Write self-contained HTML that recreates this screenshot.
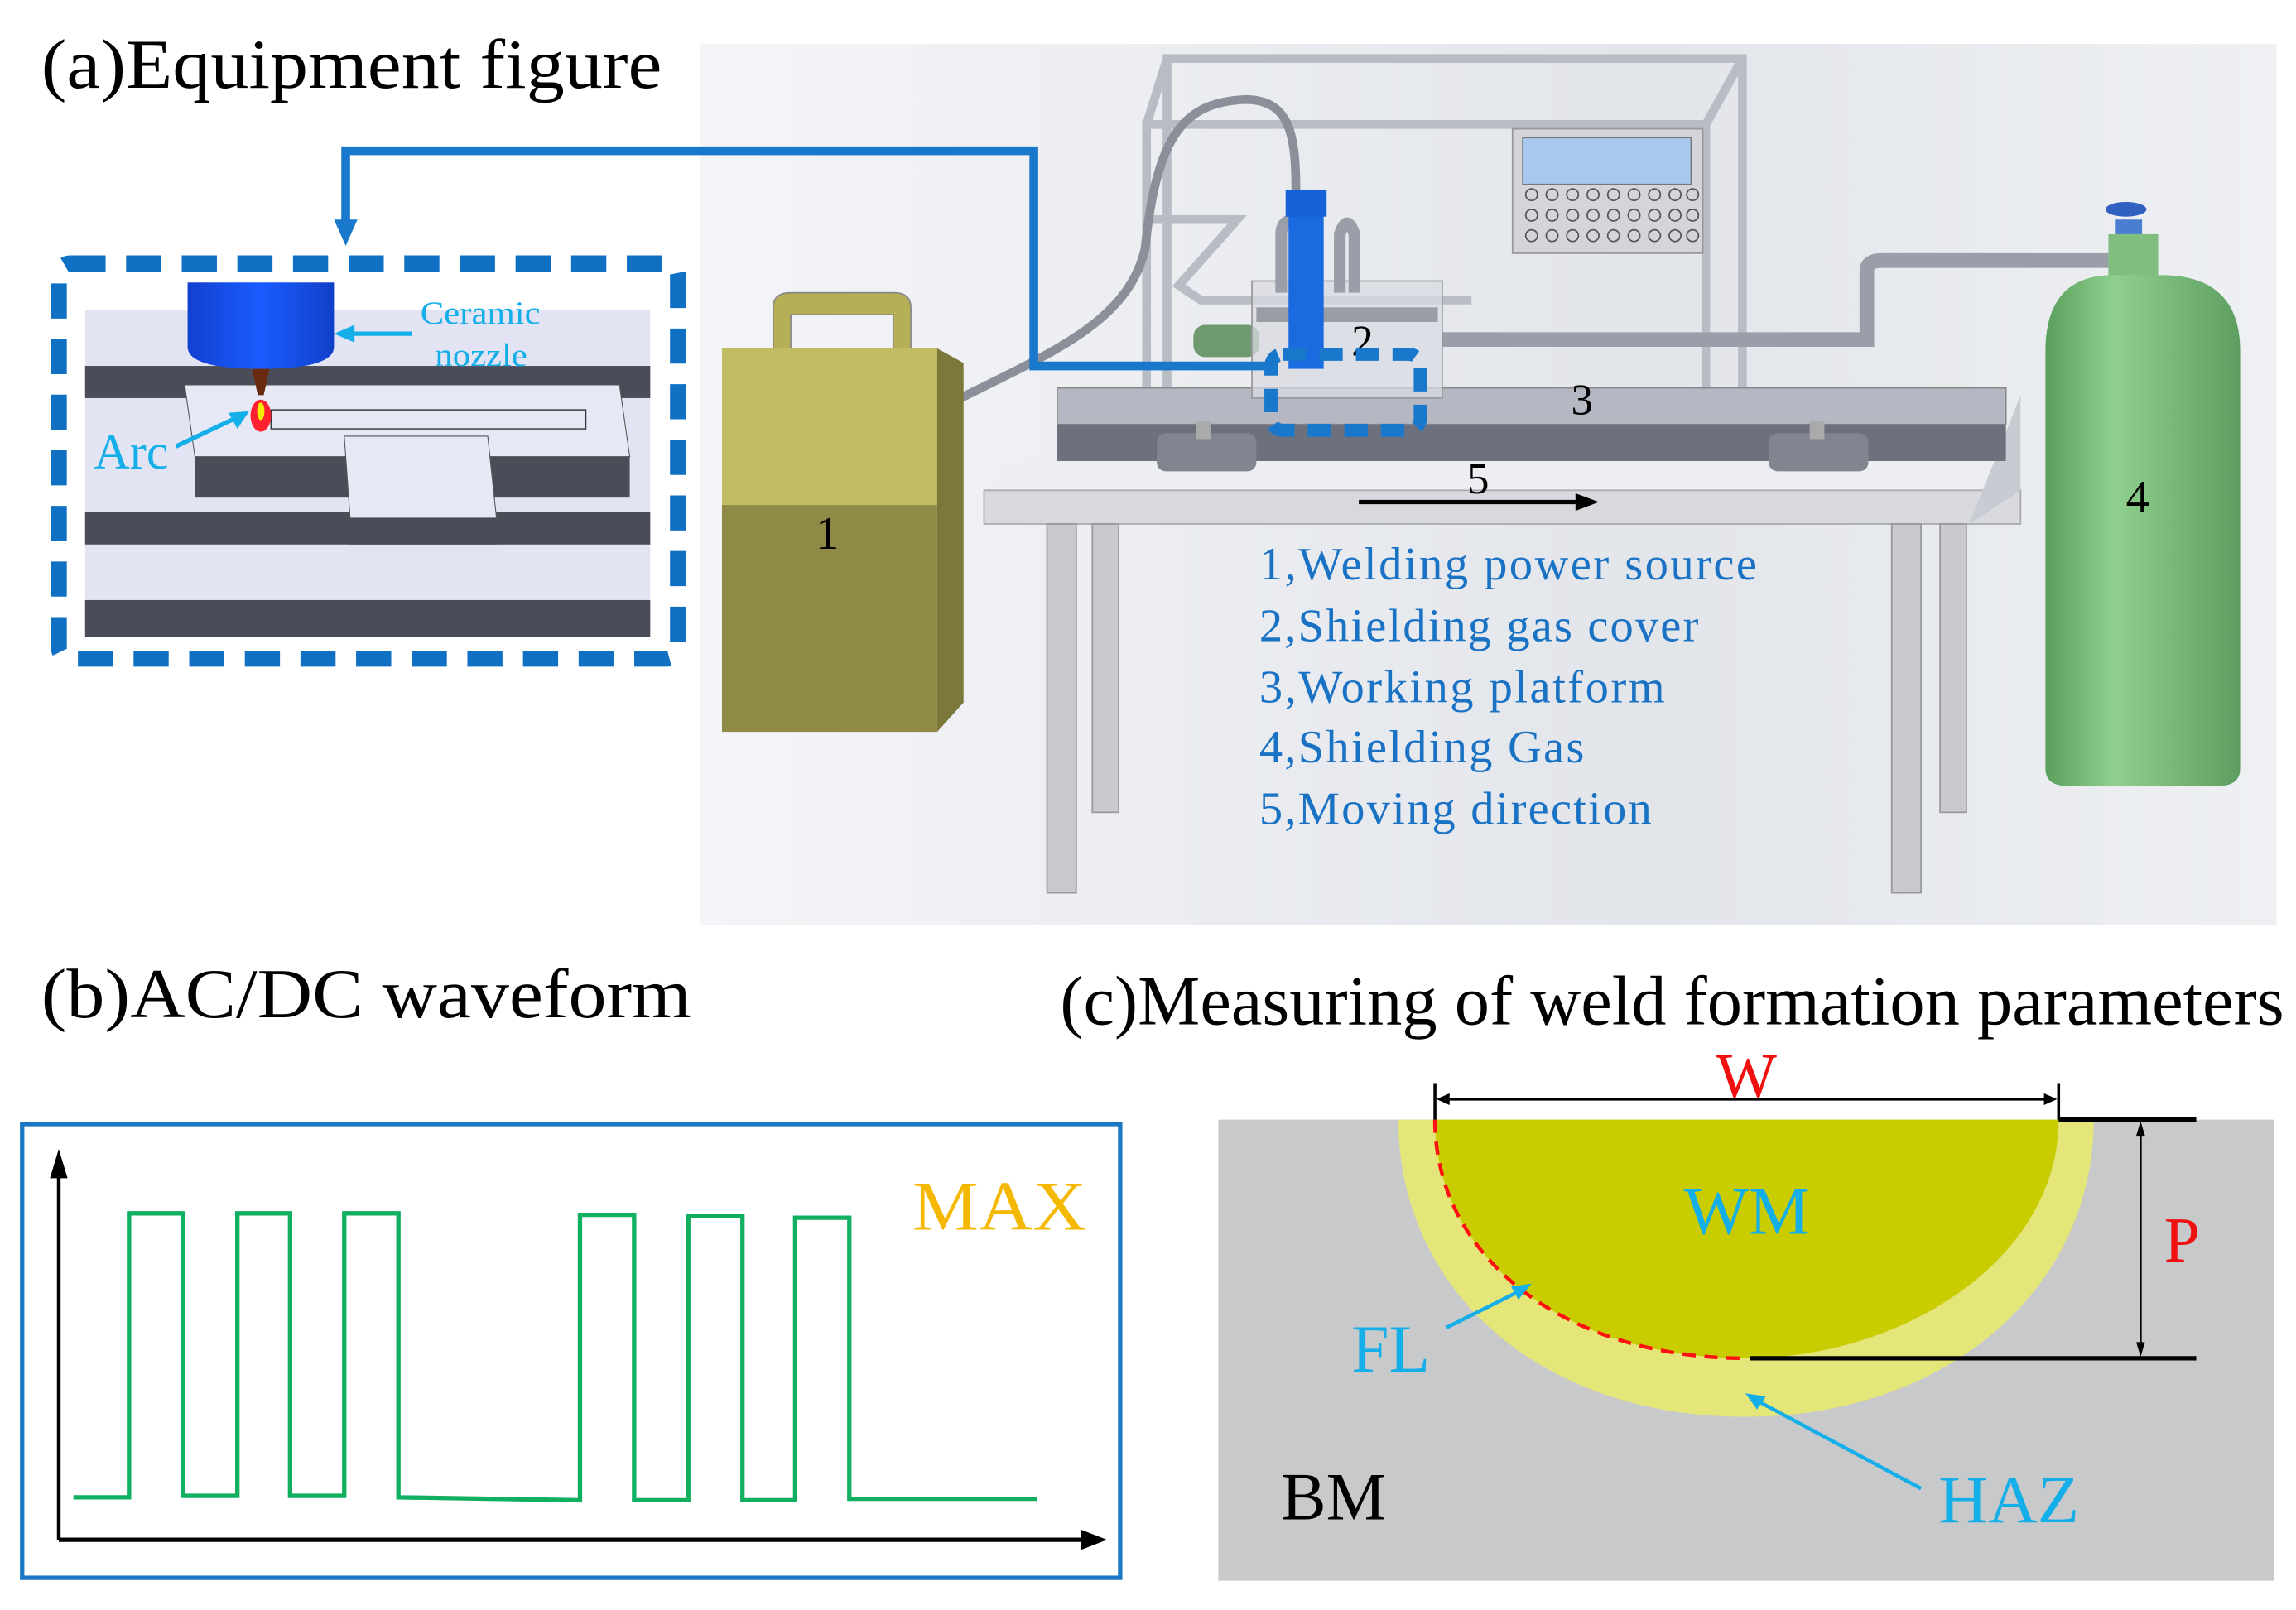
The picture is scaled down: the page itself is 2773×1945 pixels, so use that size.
<!DOCTYPE html>
<html><head><meta charset="utf-8"><style>html,body{margin:0;padding:0;background:#fff}svg{display:block}</style></head>
<body>
<svg width="2773" height="1945" viewBox="0 0 1568 1100" xmlns="http://www.w3.org/2000/svg" font-family="'Liberation Serif', serif">
<defs>
<linearGradient id="bg" x1="0" y1="0" x2="1" y2="0"><stop offset="0" stop-color="#f4f5f8"/><stop offset="0.6" stop-color="#e2e5ea"/><stop offset="1" stop-color="#eef0f3"/></linearGradient>
<linearGradient id="cyl" x1="0" y1="0" x2="1" y2="0"><stop offset="0" stop-color="#5a9f5c"/><stop offset="0.35" stop-color="#8fd08f"/><stop offset="1" stop-color="#5e9e60"/></linearGradient>
<linearGradient id="noz" x1="0" y1="0" x2="1" y2="0"><stop offset="0" stop-color="#1240d0"/><stop offset="0.5" stop-color="#1a5cff"/><stop offset="1" stop-color="#1040c8"/></linearGradient>
</defs>
<rect width="1568" height="1100" fill="#fff"/>
<!-- (a) -->
<text x="28" y="60" font-size="48" textLength="424" lengthAdjust="spacingAndGlyphs">(a)Equipment figure</text>
<rect x="478" y="30" width="1077" height="602" fill="url(#bg)"/>
<g fill="none" stroke="#b8bcc4" stroke-width="6">
<path d="M783 320 V85 H1165 V320"/>
<path d="M797 300 V40 H1190 V300"/>
<path d="M783 85 L797 40 M1165 85 L1190 40"/>
<path d="M783 150 H845 L805 195 L820 205 H1005"/>
</g>
<rect x="1033" y="88" width="130" height="85" fill="#d3d5da" stroke="#999"/>
<rect x="1040" y="94" width="115" height="32" fill="#a8c8ee" stroke="#777"/>
<g fill="none" stroke="#555" stroke-width="1">
<g id="crow"><circle cx="1046" cy="133" r="4"/><circle cx="1060" cy="133" r="4"/><circle cx="1074" cy="133" r="4"/><circle cx="1088" cy="133" r="4"/><circle cx="1102" cy="133" r="4"/><circle cx="1116" cy="133" r="4"/><circle cx="1130" cy="133" r="4"/><circle cx="1144" cy="133" r="4"/><circle cx="1156" cy="133" r="4"/></g>
<use href="#crow" y="14"/><use href="#crow" y="28"/>
</g>
<path d="M650 275 C720 240 770 220 782 170 C790 90 810 70 850 68 C880 68 885 90 885 130" fill="none" stroke="#8a8f9a" stroke-width="6"/>
<path d="M985 232 H1275 V185 Q1275 178 1285 178 H1440" fill="none" stroke="#9a9ea8" stroke-width="10"/>
<polygon points="690,315 1380,315 1370,335 672,335" fill="#eceef2"/>
<rect x="672" y="335" width="708" height="23" fill="#d7d9de" stroke="#aaa"/>
<polygon points="1380,268 1380,335 1345,358 1380,270" fill="#c9cbd2"/>
<rect x="722" y="265" width="648" height="25" fill="#b5b8c3" stroke="#888"/>
<rect x="722" y="290" width="648" height="25" fill="#6d717e"/>
<rect x="790" y="296" width="68" height="26" rx="6" fill="#808590"/>
<rect x="1208" y="296" width="68" height="26" rx="6" fill="#808590"/>
<rect x="817" y="288" width="10" height="12" fill="#aaa"/><rect x="1236" y="288" width="10" height="12" fill="#aaa"/>
<g fill="#c8cad0" stroke="#999">
<rect x="715" y="358" width="20" height="252"/><rect x="746" y="358" width="18" height="197"/>
<rect x="1292" y="358" width="20" height="252"/><rect x="1325" y="358" width="18" height="197"/>
</g>
<rect x="815" y="222" width="45" height="22" rx="8" fill="#6f9a70"/>
<rect x="855" y="192" width="130" height="80" fill="#d8dbe2" fill-opacity="0.75" stroke="#999"/>
<rect x="858" y="210" width="124" height="10" fill="#9a9da5"/>
<path d="M875 200 V160 Q875 150 885 150 M915 200 V160 Q920 145 925 160 V200" fill="none" stroke="#9a9ea8" stroke-width="8"/>
<rect x="880" y="130" width="24" height="122" fill="#1a6be0"/>
<rect x="878" y="130" width="28" height="18" fill="#1660d8"/>
<text x="923" y="243" font-size="30">2</text>
<text x="1073" y="283" font-size="30">3</text>
<text x="1002" y="337" font-size="30">5</text>
<path d="M928 343 H1080" stroke="#000" stroke-width="3"/><polygon points="1092,343 1076,337 1076,349" fill="#000"/>
<path d="M528 240 V210 Q528 200 540 200 H610 Q622 200 622 210 V240 H610 V215 H540 V240 Z" fill="#b5b055" stroke="#888"/>
<rect x="493" y="238" width="147" height="107" fill="#c1bc62"/>
<rect x="493" y="345" width="147" height="155" fill="#8f8a45"/>
<polygon points="640,238 658,248 658,480 640,500" fill="#7c773a"/>
<text x="557" y="375" font-size="32">1</text>
<rect x="1440" y="160" width="34" height="30" fill="#7fbe7f"/>
<rect x="1445" y="150" width="18" height="10" fill="#4a7ed0"/>
<ellipse cx="1452" cy="143" rx="14" ry="5" fill="#3060c0"/>
<path d="M1397 240 Q1397 190 1440 188 H1480 Q1530 190 1530 240 V525 Q1530 537 1515 537 H1412 Q1397 537 1397 525 Z" fill="url(#cyl)"/>
<text x="1452" y="350" font-size="32">4</text>
<g fill="#1a72c4" font-size="32" lengthAdjust="spacingAndGlyphs">
<text x="860" y="396" textLength="340">1,Welding power source</text>
<text x="860" y="438" textLength="300">2,Shielding gas cover</text>
<text x="860" y="480" textLength="277">3,Working platform</text>
<text x="860" y="521" textLength="222">4,Shielding Gas</text>
<text x="860" y="563" textLength="268">5,Moving direction</text>
</g>
<!-- inset -->
<rect x="58" y="212" width="386" height="223" fill="#e2e4f4"/>
<rect x="58" y="250" width="386" height="22" fill="#4a4d58"/>
<rect x="58" y="350" width="386" height="22" fill="#4a4d58"/>
<rect x="58" y="410" width="386" height="25" fill="#4a4d58"/>
<polygon points="126,263 423,263 430,312 133,312" fill="#e6e8f6" stroke="#555" stroke-width="0.6"/>
<rect x="133" y="312" width="297" height="28" fill="#4a4d58"/>
<polygon points="235,298 333,298 339,354 239,354" fill="#e6e8f6" stroke="#555" stroke-width="0.6"/>
<rect x="239" y="354" width="100" height="18" fill="#4a4d58"/>
<rect x="185" y="280" width="215" height="13" fill="none" stroke="#333" stroke-width="0.8"/>
<path d="M128 193 H228 V237 Q228 252 178 252 Q128 252 128 237 Z" fill="url(#noz)"/>
<polygon points="172,252 184,252 180,270 176,270" fill="#6a2a10"/>
<ellipse cx="178" cy="284" rx="7" ry="11" fill="#ff2030"/><ellipse cx="178" cy="281" rx="2.5" ry="6" fill="#f0f000"/>
<g fill="#14aee8">
<text x="287" y="221" font-size="22" textLength="82" lengthAdjust="spacingAndGlyphs">Ceramic</text>
<text x="297" y="250" font-size="22" textLength="63" lengthAdjust="spacingAndGlyphs">nozzle</text>
<text x="64" y="320" font-size="34">Arc</text>
</g>
<path d="M281 228 H238" stroke="#14aee8" stroke-width="3"/><polygon points="228,228 242,222 242,234" fill="#14aee8"/>
<path d="M120 305 L160 286" stroke="#14aee8" stroke-width="3"/><polygon points="170,281 156,282 162,293" fill="#14aee8"/>
<rect x="40" y="180" width="423" height="270" rx="8" fill="none" stroke="#1070c4" stroke-width="11" stroke-dasharray="24 14"/>
<rect x="868" y="242" width="102" height="52" rx="8" fill="none" stroke="#1a78cc" stroke-width="9" stroke-dasharray="16 9"/>
<path d="M868 250 H706 V103 H236 V155" fill="none" stroke="#1a78cc" stroke-width="6"/>
<polygon points="228,150 244,150 236,168" fill="#1a78cc"/>
<!-- (b) -->
<text x="28" y="695" font-size="48" textLength="444" lengthAdjust="spacingAndGlyphs">(b)AC/DC waveform</text>
<rect x="15" y="768" width="750" height="310" fill="none" stroke="#1a78c4" stroke-width="3"/>
<path d="M40 1052 V795" stroke="#000" stroke-width="2.5"/><polygon points="40,785 34,805 46,805" fill="#000"/>
<path d="M40 1052 H740" stroke="#000" stroke-width="3"/><polygon points="756,1052 738,1045 738,1059" fill="#000"/>
<path d="M50 1023 H88 V829 H125 V1022 H162 V829 H198 V1022 H235 V829 H272 V1023 L396 1025 V830 H433 V1025 H470 V831 H507 V1025 H543 V832 H580 V1024 H708" fill="none" stroke="#10b060" stroke-width="3"/>
<text x="623" y="840" font-size="48" fill="#f5b800" textLength="119" lengthAdjust="spacingAndGlyphs">MAX</text>
<!-- (c) -->
<text x="724" y="700" font-size="48" textLength="836" lengthAdjust="spacingAndGlyphs">(c)Measuring of weld formation parameters</text>
<rect x="832" y="765" width="721" height="315" fill="#c8c9cb"/>
<path d="M955 765 H1430 C1430 880 1330 968 1192 968 C1050 968 955 880 955 765 Z" fill="#e4e67a"/>
<path d="M980 765 H1406 C1406 860 1300 928 1192 928 C1070 928 980 860 980 765 Z" fill="#c8cc00"/>
<path d="M980 765 C980 860 1070 928 1192 928" fill="none" stroke="#ff1010" stroke-width="2.5" stroke-dasharray="9 6"/>
<path d="M980 740 V765 M1406 740 V765" stroke="#000" stroke-width="2"/>
<path d="M983 751 H1403" stroke="#000" stroke-width="2"/>
<polygon points="981,751 990,747 990,755" fill="#000"/><polygon points="1405,751 1396,747 1396,755" fill="#000"/>
<path d="M1406 765 H1500 M1195 928 H1500" stroke="#000" stroke-width="3"/>
<path d="M1462 768 V925" stroke="#000" stroke-width="1.5"/>
<polygon points="1462,766 1459,776 1465,776" fill="#000"/><polygon points="1462,927 1459,917 1465,917" fill="#000"/>
<text x="1172" y="750" font-size="44" fill="#f01010">W</text>
<text x="1478" y="862" font-size="44" fill="#f01010">P</text>
<g fill="#14aee8" font-size="46">
<text x="1150" y="843" textLength="86" lengthAdjust="spacingAndGlyphs">WM</text>
<text x="923" y="937">FL</text>
<text x="1324" y="1040" textLength="96" lengthAdjust="spacingAndGlyphs">HAZ</text>
</g>
<text x="875" y="1038" font-size="46">BM</text>
<path d="M988 907 L1038 882" stroke="#14aee8" stroke-width="2.5"/><polygon points="1046,877 1032,879 1037,888" fill="#14aee8"/>
<path d="M1312 1017 L1202 958" stroke="#14aee8" stroke-width="2.5"/><polygon points="1192,952 1200,963 1206,954" fill="#14aee8"/>
</svg>
</body></html>
